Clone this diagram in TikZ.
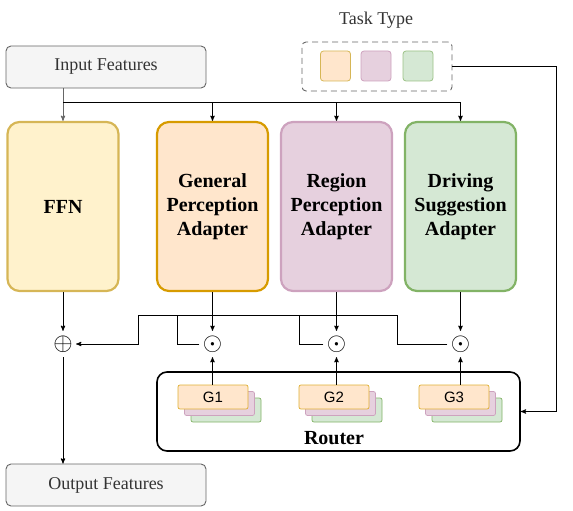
\documentclass[tikz,border=0pt]{standalone}
\usepackage{fontspec}
\setmainfont{Liberation Serif}
\newfontfamily\gatefont{Liberation Sans}
\usetikzlibrary{positioning, arrows}

\definecolor{featfill}{HTML}{F5F5F5}
\definecolor{featline}{HTML}{666666}
\definecolor{ffnfill}{HTML}{FFF2CC}
\definecolor{ffnline}{HTML}{D6B656}
\definecolor{genfill}{HTML}{FFE6CC}
\definecolor{genline}{HTML}{D79B00}
\definecolor{regfill}{HTML}{E6D0DE}
\definecolor{regline}{HTML}{CDA2BE}
\definecolor{drvfill}{HTML}{D5E8D4}
\definecolor{drvline}{HTML}{82B366}

\tikzset{
    feat/.style={draw=featline, fill=featfill, rounded corners=5pt, minimum width=200pt, minimum height=42pt, font=\fontsize{18}{20}\selectfont, text=black!80},
    block/.style={rounded corners=12pt, line width=2.2pt, minimum width=111pt, minimum height=169pt, align=center, font=\fontsize{20}{24}\selectfont\bfseries},
    swatch/.style={rounded corners=3pt, line width=0.8pt, minimum size=30pt},
    gatebox/.style={rounded corners=2pt, line width=0.7pt, minimum width=70pt, minimum height=24pt, font=\gatefont\fontsize{15}{17}\selectfont},
    sym/.style={circle, inner sep=0pt, minimum size=17pt, font=\fontsize{26}{26}\selectfont}
}

\begin{document}
\begin{tikzpicture}[x=1pt, y=-1pt, >=stealth', line width=0.9pt]
    \useasboundingbox (0,0) rectangle (573,511);

    % features
    \node[feat] (input) at (106,67) {Input Features};
    \node[feat] (output) at (106,485) {Output Features};

    % experts
    \node[block, draw=ffnline, fill=ffnfill] (ffn) at (63,206.5) {FFN};
    \node[block, draw=genline, fill=genfill] (gpa) at (212.5,206.5) {General\\Perception\\Adapter};
    \node[block, draw=regline, fill=regfill] (rpa) at (336.5,206.5) {Region\\Perception\\Adapter};
    \node[block, draw=drvline, fill=drvfill] (dsa) at (460.5,206.5) {Driving\\Suggestion\\Adapter};

    % task type
    \node[font=\fontsize{18}{20}\selectfont, text=black!80] (tasklabel) at (376,20) {Task Type};
    \node[draw=featline, dash pattern=on 6pt off 4pt, rounded corners=4pt, minimum width=150pt, minimum height=49pt] (task) at (377,66.5) {};
    \node[swatch, draw=ffnline, fill=genfill] (t1) at (335.5,66) {};
    \node[swatch, draw=regline, fill=regfill] (t2) at (376,66) {};
    \node[swatch, draw=drvline!80, fill=drvfill] (t3) at (418,66) {};

    % combine symbols
    \node[sym] (plus) at (63,344) {$\oplus$};
    \node[sym] (dot1) at (212.5,344) {$\odot$};
    \node[sym] (dot2) at (336.5,344) {$\odot$};
    \node[sym] (dot3) at (460.5,344) {$\odot$};

    % router
    \node[draw, line width=1.6pt, rounded corners=10pt, minimum width=363pt, minimum height=79pt] (router) at (338.5,411.5) {};
    \node[font=\fontsize{20}{22}\selectfont\bfseries] (routerlabel) at (334,438) {Router};
    \foreach \i/\x in {1/213, 2/334, 3/454} {
        \node[gatebox, draw=drvline, fill=drvfill] (g\i c) at (\x+13,410) {};
        \node[gatebox, draw=regline, fill=regfill] (g\i b) at (\x+6.5,403.5) {};
        \node[gatebox, draw=genline!80, fill=genfill] (g\i) at (\x,397) {G\i};
    }

    % input to experts
    \coordinate (bus) at (63,102);
    \draw[->, featline] (ffn.north |- input.south) -- (ffn.north);
    \draw (bus) -- (dsa.north |- bus);
    \foreach \n in {gpa, rpa, dsa}
        \draw[->] (\n.north |- bus) -- (\n.north);

    % experts to symbols
    \draw[->] (ffn) -- (plus);
    \draw[->] (gpa) -- (dot1);
    \draw[->] (rpa) -- (dot2);
    \draw[->] (dsa) -- (dot3);

    % gates to symbols
    \draw[->] (g1.north -| dot1) -- (dot1);
    \draw[->] (g2.north -| dot2) -- (dot2);
    \draw[->] (g3.north -| dot3) -- (dot3);

    % weighted sum
    \coordinate (j1) at (177,315);
    \coordinate (j2) at (299,315);
    \coordinate (j3) at (397,315);
    \coordinate (mix) at (138,315);
    \draw (dot1.west) -| (j1);
    \draw (dot2.west) -| (j2);
    \draw (dot3.west) -| (j3);
    \draw[->] (j3) -- (mix) |- (plus.east);
    \draw[->] (plus.south) -- (plus.south |- output.north);

    % task type to router
    \coordinate (turn) at (556,0);
    \draw[->] (task.east) -- (task.east -| turn) |- (router.east);
\end{tikzpicture}
\end{document}
